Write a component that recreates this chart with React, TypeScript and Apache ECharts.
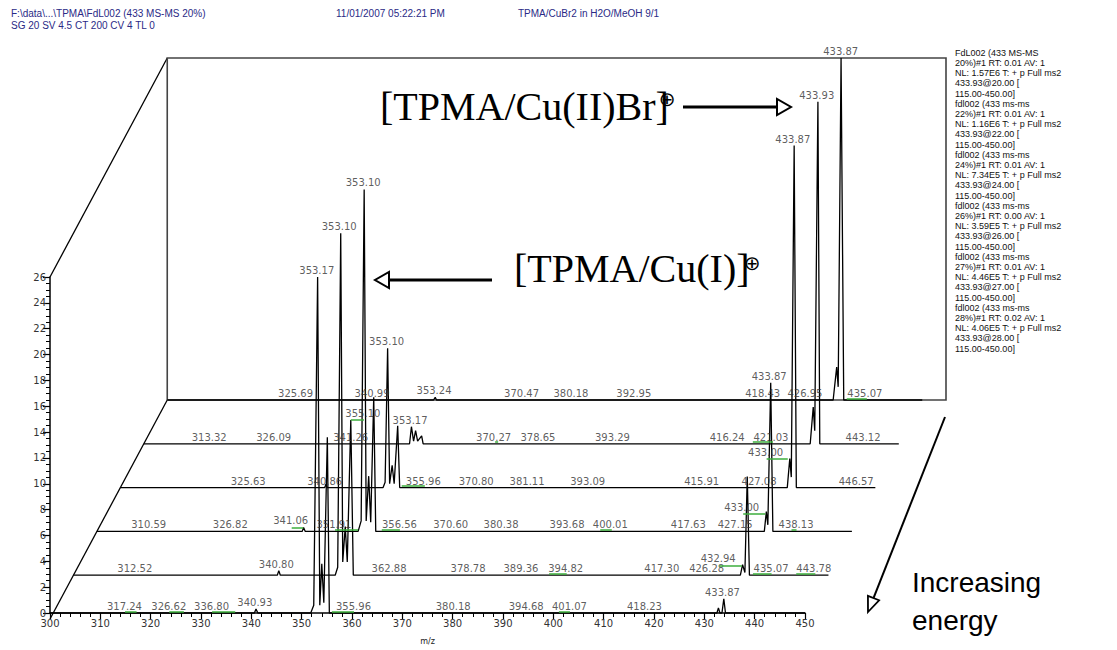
import React, { useEffect, useRef } from 'react';
import * as echarts from 'echarts';

// ---------- data ----------
const MZ_MIN = 300;
const MZ_MAX = 450;
const MZ_STEP = 10;
const Y_MIN = 0;
const Y_MAX = 26;
const Y_STEP = 2;

// traces from front (index 0, 28%) to back (index 5, 20%)
const energies = ['28%', '27%', '26%', '24%', '22%', '20%'];

const profile28 = [[340.6, 0], [340.93, 0.3], [341.3, 0], [351.8, 0], [352.4, 0.6], [353.17, 26], [353.6, 0.6], [354.0, 3.8], [354.4, 0.8], [355.1, 13.6], [355.5, 0], [432.5, 0], [432.8, 0.4], [433.1, 0], [433.5, 0], [433.87, 1.1], [434.2, 0]];
const profile27 = [[340.5, 0], [340.8, 0.35], [341.1, 0], [352.0, 0], [352.5, 0.6], [353.1, 26], [353.5, 1.0], [354.0, 3.7], [354.4, 1.0], [355.1, 11.8], [355.6, 0], [432.5, 0], [432.94, 0.8], [433.4, 0.2], [433.87, 7.5], [434.3, 0]];
const profile26 = [[340.8, 0], [341.06, 0.3], [341.4, 0], [351.9, 0], [352.5, 0.8], [353.1, 26], [353.5, 0.8], [354.0, 4.2], [354.4, 0.7], [355.0, 10.2], [355.4, 0], [432.6, 0], [433.0, 1.5], [433.3, 0.5], [433.87, 11.3], [434.3, 0]];
const profile24 = [[340.6, 0], [340.86, 0.25], [341.1, 0], [352.2, 0], [352.6, 0.4], [353.1, 10.6], [353.5, 0.3], [354.0, 1.7], [354.4, 0.3], [355.1, 4.7], [355.5, 0], [432.5, 0], [433.0, 2.2], [433.3, 0.8], [433.87, 26], [434.3, 0]];
const profile22 = [[352.8, 0], [353.17, 1.3], [353.6, 0.2], [354.0, 1.0], [354.4, 0.2], [355.2, 0.6], [355.5, 0], [432.4, 0], [433.0, 2.8], [433.3, 1.0], [433.93, 26], [434.3, 0]];
const profile20 = [[352.9, 0], [353.24, 0.2], [353.5, 0], [432.3, 0], [433.0, 2.5], [433.3, 1.0], [433.87, 26], [434.4, 0]];

// [text, anchor m/z, anchor height]
const labels28 = [['317.24', 314.8, 0], ['326.62', 323.6, 0], ['336.80', 332.1, 0], ['340.93', 340.7, 0.3], ['353.17', 353.0, 26], ['355.96', 360.3, 0], ['380.18', 380.1, 0], ['394.68', 394.6, 0], ['401.07', 403.2, 0], ['418.23', 418.1, 0], ['433.87', 433.6, 1.1]];
const labels27 = [['312.52', 312.2, 0], ['340.80', 340.3, 0.35], ['353.10', 352.8, 26], ['355.10', 357.5, 11.8], ['362.88', 362.7, 0], ['378.78', 378.4, 0], ['389.36', 388.9, 0], ['394.82', 397.8, 0], ['417.30', 416.9, 0], ['426.28', 425.8, 0], ['432.94', 428.1, 0.75], ['435.07', 438.6, 0], ['443.78', 447.1, 0]];
const labels26 = [['310.59', 310.3, 0], ['326.82', 326.5, 0], ['341.06', 338.5, 0.3], ['351.91', 347.1, 0], ['353.10', 352.9, 26], ['356.56', 360.1, 0], ['370.60', 370.3, 0], ['380.38', 380.3, 0], ['393.68', 393.4, 0], ['400.01', 402.0, 0], ['417.63', 417.5, 0], ['427.15', 426.8, 0], ['433.00', 428.1, 1.36], ['433.87', 433.56, 11.3], ['438.13', 438.9, 0]];
const labels24 = [['325.63', 325.4, 0], ['340.86', 340.6, 0], ['353.10', 352.9, 10.6], ['355.96', 360.2, 0], ['370.80', 370.7, 0], ['381.11', 380.8, 0], ['393.09', 392.85, 0], ['415.91', 415.5, 0], ['427.08', 426.9, 0], ['433.00', 428.2, 2.2], ['433.87', 433.6, 26], ['446.57', 446.2, 0]];
const labels22 = [['313.32', 313.0, 0], ['326.09', 325.8, 0], ['341.26', 341.1, 0], ['353.17', 352.9, 1.3], ['370.27', 369.5, 0], ['378.65', 378.3, 0], ['393.29', 393.1, 0], ['416.24', 415.9, 0], ['421.03', 424.6, 0], ['433.93', 433.7, 26], ['443.12', 442.9, 0]];
const labels20 = [['325.69', 325.5, 0], ['340.99', 340.7, 0], ['353.24', 353.0, 0.2], ['370.47', 370.4, 0], ['380.18', 380.2, 0], ['392.95', 392.7, 0], ['418.43', 418.3, 0], ['426.95', 426.7, 0], ['433.87', 433.8, 26], ['435.07', 438.6, 0]];

// green flags under labels: [from m/z, to m/z, height]
const green28 = [[314.9, 317.2, 0.13], [323.7, 326.6, 0.13], [332.2, 336.8, 0.13], [356.0, 360.4, 0.13], [401.1, 403.3, 0.13]];
const green27 = [[355.1, 357.7, 11.8], [394.5, 398.0, 0.13], [428.3, 432.8, 0.75], [435.0, 438.7, 0.13], [443.6, 447.4, 0.13]];
const green26 = [[338.7, 341.0, 0.3], [347.3, 351.9, 0.13], [356.6, 360.2, 0.13], [400.0, 402.3, 0.13], [428.4, 432.8, 1.36], [438.0, 439.0, 0.13]];
const green24 = [[355.9, 360.5, 0.13], [428.4, 432.6, 2.2]];
const green22 = [[369.8, 370.4, 0.13], [421.0, 425.0, 0.13]];
const green20 = [[435.0, 439.0, 0.13]];

const profiles = [profile28, profile27, profile26, profile24, profile22, profile20];
const labelSets = [labels28, labels27, labels26, labels24, labels22, labels20];
const greenSets = [green28, green27, green26, green24, green22, green20];

const headerLines = ['F:\\data\\...\\TPMA\\FdL002 (433 MS-MS 20%)', 'SG 20 SV 4.5 CT 200 CV 4 TL 0'];
const headerDate = '11/01/2007 05:22:21 PM';
const headerTitle = 'TPMA/CuBr2 in H2O/MeOH 9/1';

const legendLines = [
  'FdL002 (433 MS-MS', '20%)#1 RT: 0.01 AV: 1', 'NL: 1.57E6 T: + p Full ms2', '433.93@20.00 [', '115.00-450.00]',
  'fdl002 (433 ms-ms', '22%)#1 RT: 0.01 AV: 1', 'NL: 1.16E6 T: + p Full ms2', '433.93@22.00 [', '115.00-450.00]',
  'fdl002 (433 ms-ms', '24%)#1 RT: 0.01 AV: 1', 'NL: 7.34E5 T: + p Full ms2', '433.93@24.00 [', '115.00-450.00]',
  'fdl002 (433 ms-ms', '26%)#1 RT: 0.00 AV: 1', 'NL: 3.59E5 T: + p Full ms2', '433.93@26.00 [', '115.00-450.00]',
  'fdl002 (433 ms-ms', '27%)#1 RT: 0.01 AV: 1', 'NL: 4.46E5 T: + p Full ms2', '433.93@27.00 [', '115.00-450.00]',
  'fdl002 (433 ms-ms', '28%)#1 RT: 0.02 AV: 1', 'NL: 4.06E5 T: + p Full ms2', '433.93@28.00 [', '115.00-450.00]',
];

const annCu2 = '[TPMA/Cu(II)Br]';
const annCu1 = '[TPMA/Cu(I)]';
const annPlus = '⊕';
const annEnergy = ['Increasing', 'energy'];
const xName = 'm/z';

// ---------- layout ----------
const X0 = 50;      // left of front plot
const Y0 = 619;     // baseline of front plot
const DX = 23.45;   // depth shift per trace
const DY = 43.8;
const PW = 755;     // plot width
const PH = 342;     // plot height
const BOX_RIGHT = 946;
const NAVY = '#2a2a86';
const SMALL = '"DejaVu Sans", sans-serif';
const SANS = '"Liberation Sans", Arial, sans-serif';

export default function App() {
  const ref = useRef<HTMLDivElement>(null);
  useEffect(() => {
    if (!ref.current) return;
    const chart = echarts.init(ref.current, undefined, { renderer: 'svg' });

    const grids: any[] = [];
    const xAxes: any[] = [];
    const yAxes: any[] = [];
    const series: any[] = [];

    profiles.forEach((prof, d) => {
      const left = X0 + d * DX;
      const base = Y0 - d * DY;
      grids.push({ left, top: base - PH, width: PW, height: PH, containLabel: false });
      const front = d === 0;
      xAxes.push({
        gridIndex: d, type: 'value', min: MZ_MIN, max: MZ_MAX, interval: MZ_STEP,
        show: front,
        name: front ? xName : '', nameLocation: 'middle', nameGap: 24,
        nameTextStyle: { fontSize: 8, fontFamily: SMALL, color: '#222' },
        axisLine: { show: front, lineStyle: { color: '#000', width: 1.5 } },
        axisTick: { show: front, length: 6, lineStyle: { color: '#000', width: 1.2 } },
        minorTick: { show: front, splitNumber: 5, length: 4, lineStyle: { color: '#000', width: 1 } },
        axisLabel: { show: front, fontSize: 10, fontFamily: SMALL, color: '#333', margin: 5 },
        splitLine: { show: false },
      });
      yAxes.push({
        gridIndex: d, type: 'value', min: Y_MIN, max: Y_MAX, interval: Y_STEP,
        show: front,
        axisLine: { show: front, lineStyle: { color: '#000', width: 1.5 } },
        axisTick: { show: front, length: 7, lineStyle: { color: '#000', width: 1.2 } },
        minorTick: { show: front, splitNumber: 4, length: 4, lineStyle: { color: '#000', width: 1 } },
        axisLabel: { show: front, fontSize: 10, fontFamily: SMALL, color: '#333', margin: 4 },
        splitLine: { show: false },
      });
      series.push({
        type: 'line', name: energies[d], xAxisIndex: d, yAxisIndex: d,
        data: [[MZ_MIN, 0], ...prof, [MZ_MAX, 0]],
        showSymbol: false, symbol: 'none', clip: false,
        lineStyle: { color: '#000', width: 1.3 },
        z: 3,
        markLine: {
          silent: true, symbol: ['none', 'none'], label: { show: false },
          lineStyle: { color: '#3dae3d', width: 1.5, type: 'solid' },
          data: greenSets[d].map((g) => [{ coord: [g[0], g[2]] }, { coord: [g[1], g[2]] }]),
        },
      });
      series.push({
        type: 'scatter', xAxisIndex: d, yAxisIndex: d,
        symbolSize: 1, itemStyle: { color: 'rgba(0,0,0,0)' }, z: 4,
        data: labelSets[d].map((l) => ({ name: l[0], value: [l[1], l[2]] })),
        label: {
          show: true, position: 'top', distance: 1, formatter: (p: any) => p.name,
          fontSize: 10, fontFamily: SMALL, color: '#333',
        },
      });
    });

    const backLeft = X0 + 5 * DX;
    const backBase = Y0 - 5 * DY;
    const txt = (x: number, y: number, text: string, font: string, fill: string, align = 'left') => ({
      type: 'text', x, y, silent: true,
      style: { text, font, fill, align, textAlign: align, verticalAlign: 'middle', textVerticalAlign: 'middle' },
    });

    // diagonal "increasing energy" arrow
    const aTop = [BOX_RIGHT - 1, backBase + 17];
    const aTip = [868, 612];
    const len = Math.hypot(aTip[0] - aTop[0], aTip[1] - aTop[1]);
    const ux = (aTip[0] - aTop[0]) / len;
    const uy = (aTip[1] - aTop[1]) / len;
    const bc = [aTip[0] - 15 * ux, aTip[1] - 15 * uy];
    const c1 = [bc[0] + 6 * uy, bc[1] - 6 * ux];
    const c2 = [bc[0] - 6 * uy, bc[1] + 6 * ux];

    const graphic: any[] = [
      // 3D frame
      { type: 'line', silent: true, shape: { x1: X0, y1: Y0, x2: backLeft, y2: backBase }, style: { stroke: '#000', lineWidth: 1.3 } },
      { type: 'line', silent: true, shape: { x1: X0, y1: Y0 - PH, x2: backLeft, y2: backBase - PH }, style: { stroke: '#000', lineWidth: 1.3 } },
      { type: 'rect', silent: true, shape: { x: backLeft, y: backBase - PH, width: BOX_RIGHT - backLeft, height: PH }, style: { stroke: '#444', lineWidth: 1.6, fill: 'none' } },
      // header
      txt(11, 13, headerLines[0], `10px ${SANS}`, NAVY),
      txt(11, 25, headerLines[1], `10px ${SANS}`, NAVY),
      txt(336, 13, headerDate, `10px ${SANS}`, NAVY),
      txt(518, 13, headerTitle, `10px ${SANS}`, NAVY),
      // legend
      ...legendLines.map((l, i) => txt(955, 52.7 + i * 10.2, l, `9px ${SANS}`, '#111')),
      // annotations
      txt(380, 106, annCu2, '40px "Liberation Serif", serif', '#000'),
      txt(667, 99, annPlus, `20px ${SMALL}`, '#000', 'center'),
      { type: 'line', silent: true, shape: { x1: 683, y1: 107, x2: 778, y2: 107 }, style: { stroke: '#000', lineWidth: 3 } },
      { type: 'polygon', silent: true, shape: { points: [[777, 99], [777, 115], [791, 107]] }, style: { fill: '#fff', stroke: '#000', lineWidth: 2 } },
      txt(514, 268, annCu1, '40px "Liberation Serif", serif', '#000'),
      txt(752, 263, annPlus, `20px ${SMALL}`, '#000', 'center'),
      { type: 'line', silent: true, shape: { x1: 388, y1: 280, x2: 492, y2: 280 }, style: { stroke: '#000', lineWidth: 3 } },
      { type: 'polygon', silent: true, shape: { points: [[389, 272], [389, 288], [375, 280]] }, style: { fill: '#fff', stroke: '#000', lineWidth: 2 } },
      txt(912, 582, annEnergy[0], `28px ${SANS}`, '#000'),
      txt(912, 620, annEnergy[1], `28px ${SANS}`, '#000'),
      { type: 'line', silent: true, shape: { x1: aTop[0], y1: aTop[1], x2: bc[0], y2: bc[1] }, style: { stroke: '#000', lineWidth: 2 } },
      { type: 'polygon', silent: true, shape: { points: [aTip, c1, c2] }, style: { fill: '#fff', stroke: '#000', lineWidth: 1.8 } },
    ];

    chart.setOption({
      animation: false,
      backgroundColor: '#fff',
      grid: grids,
      xAxis: xAxes,
      yAxis: yAxes,
      series,
      graphic,
    });
    return () => chart.dispose();
  }, []);
  return <div ref={ref} style={{ width: 1117, height: 650, position: 'absolute', left: 0, top: 0 }} />;
}
